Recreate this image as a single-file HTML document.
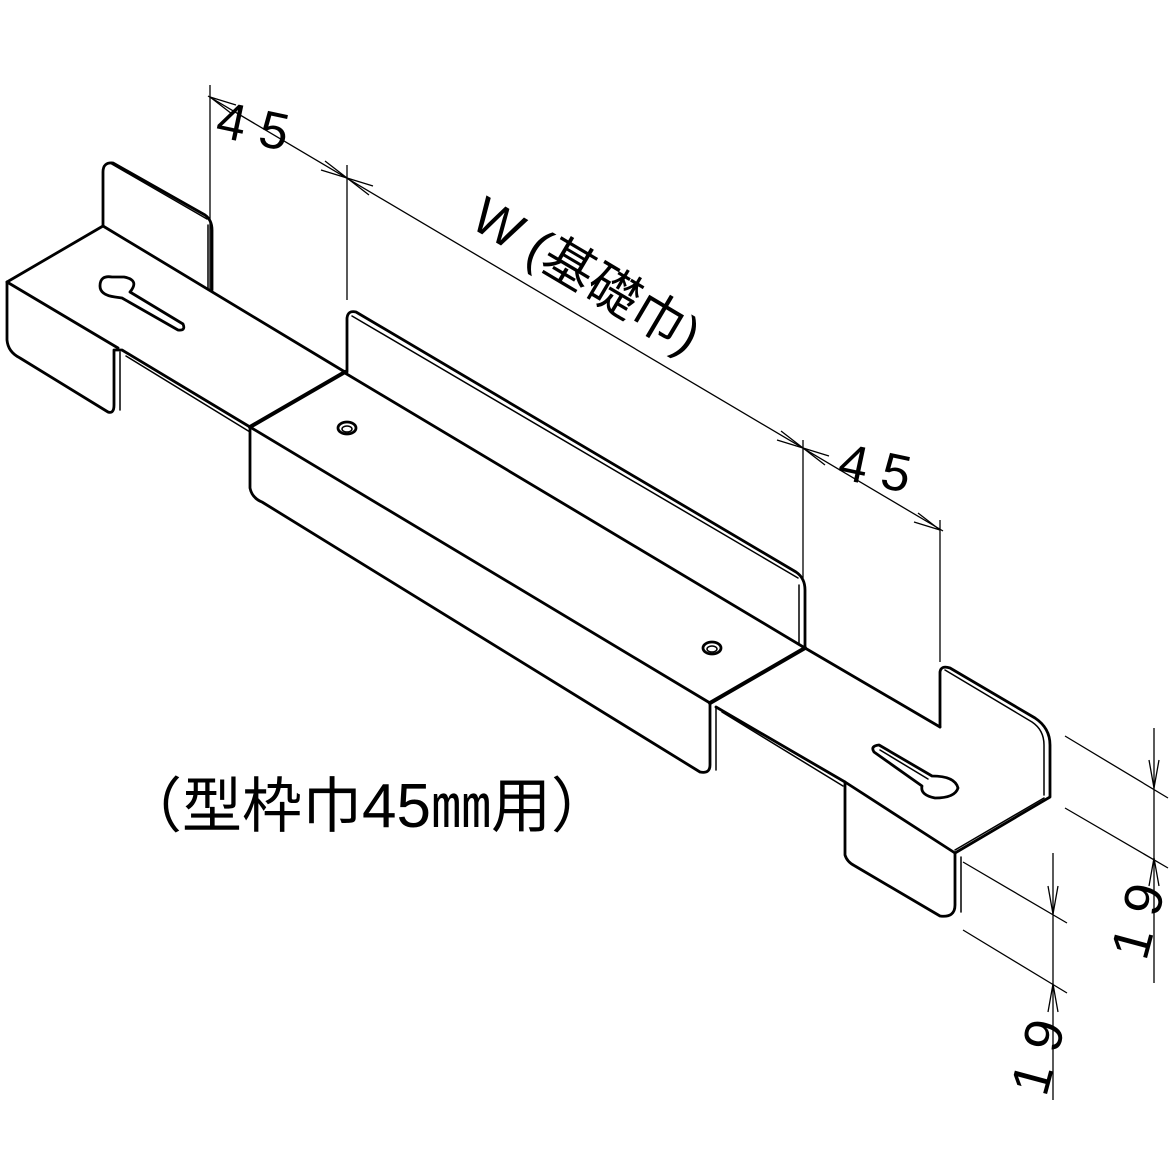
<!DOCTYPE html>
<html><head><meta charset="utf-8"><style>html,body{margin:0;padding:0;background:#fff}svg{display:block}</style></head>
<body>
<svg width="1174" height="1174" viewBox="0 0 1174 1174" xmlns="http://www.w3.org/2000/svg">
<g fill="none" stroke="#000" stroke-width="2.8" stroke-linejoin="round" stroke-linecap="round">
<path d="M103,226 L103,172 Q103,162 113,163 L205,215 Q212,220 212,230 L212,290"/>
<path d="M110,163 L207,219" stroke-width="1.5"/>
<path d="M208,225 L208,288" stroke-width="1.5"/>
<path d="M7,282 L103,226 L345,372"/>
<path d="M7,282 L7,340 Q8,352 20,358 L108,412 Q114,414 114,405 L114,350 L122,350 L250,427"/>
<path d="M7,282 L118,348"/>
<path d="M120,352 L120,410" stroke-width="1.5"/>
<path d="M126,356 L250,432" stroke-width="1.5"/>
<path d="M112,277 Q100,275 100,286 Q100,295 115,297 L122,298 L178,330 Q186,331 183,324 L130,292 Q140,280 124,277 Z"/>
<path d="M250,427 L345,372" stroke-width="4"/>
<path d="M347,372 L347,318 Q348,310 356,312 L796,572 Q805,578 805,590 L805,648"/>
<path d="M352,316 L798,578" stroke-width="1.5"/>
<path d="M799,585 L799,645" stroke-width="1.5"/>
<path d="M345,373 L805,648"/>
<path d="M250,427 L710,703"/>
<path d="M250,427 L250,488 Q252,498 262,502 L700,772 Q710,774 710,765 L710,703"/>
<path d="M716,707 L716,770" stroke-width="1.5"/>
<ellipse cx="347" cy="428" rx="9" ry="6"/>
<ellipse cx="347" cy="429" rx="5" ry="3" stroke-width="1.5"/>
<ellipse cx="712" cy="648" rx="9" ry="6"/>
<ellipse cx="712" cy="649" rx="5" ry="3" stroke-width="1.5"/>
<path d="M710,703 L805,648" stroke-width="4"/>
<path d="M805,648 L940,727"/>
<path d="M940,727 L940,672 Q941,665 950,668 L1035,718 Q1050,728 1050,745 L1050,797 L955,853"/>
<path d="M945,670 L1032,722 Q1044,730 1044,745 L1044,795" stroke-width="1.5"/>
<path d="M1044,798 L955,850" stroke-width="1.5"/>
<path d="M716,707 L845,782 L955,853"/>
<path d="M722,712 L843,786" stroke-width="1.5"/>
<path d="M845,782 L845,855 Q847,862 855,866 L940,916 Q955,918 955,905 L955,853"/>
<path d="M961,857 L961,912" stroke-width="1.5"/>
<path d="M874,752 Q870,746 879,745 L932,776 Q955,776 958,788 Q955,798 935,798 Q920,795 922,786 Z"/>
<path d="M880,750 L928,779" stroke-width="1.5"/>
</g>
<g fill="none" stroke="#000" stroke-width="1.3">
<path d="M210,85 L210,290"/>
<path d="M347,165 L347,300"/>
<path d="M803,440 L803,578"/>
<path d="M940,520 L940,662"/>
<path d="M208,96 L943,531"/>
<path d="M210,97 l26,8 M210,97 l22,17"/>
<path d="M347,178 l-26,-8 M347,178 l-22,-17 M347,178 l26,8 M347,178 l22,17"/>
<path d="M803,448 l-26,-8 M803,448 l-22,-17 M803,448 l26,8 M803,448 l22,17"/>
<path d="M940,530 l-26,-8 M940,530 l-22,-17"/>
<path d="M1065,736 L1168,798 M1065,808 L1168,868 M1154,728 L1154,983"/>
<path d="M1154,788 l-5,-28 M1154,788 l5,-28 M1154,858 l-5,28 M1154,858 l5,28"/>
<path d="M963,862 L1067,923 M963,930 L1067,993 M1053,853 L1053,1100"/>
<path d="M1053,914 l-5,-28 M1053,914 l5,-28 M1053,984 l-5,28 M1053,984 l5,28"/>
</g>
<g font-family="Liberation Sans, sans-serif" fill="#000">
<text x="214" y="136" font-size="52" transform="rotate(12 214 136)">4 5</text>
<text x="836" y="478" font-size="52" transform="rotate(12 836 478)">4 5</text>
<text x="468" y="226" font-size="52" font-family="Liberation Sans, 'Noto Sans CJK JP', sans-serif" transform="rotate(30.6 468 226)">W (基礎巾)</text>
<text x="1146" y="962" font-size="54" transform="rotate(-75 1146 962)">1 9</text>
<text x="1046" y="1098" font-size="54" transform="rotate(-75 1046 1098)">1 9</text>
<text x="122" y="827" font-size="60" font-family="Liberation Sans, 'Noto Sans CJK JP', sans-serif"><tspan>（</tspan><tspan>型枠巾</tspan><tspan font-size="62">45</tspan><tspan>㎜用）</tspan></text>
</g>
</svg>
</body></html>
